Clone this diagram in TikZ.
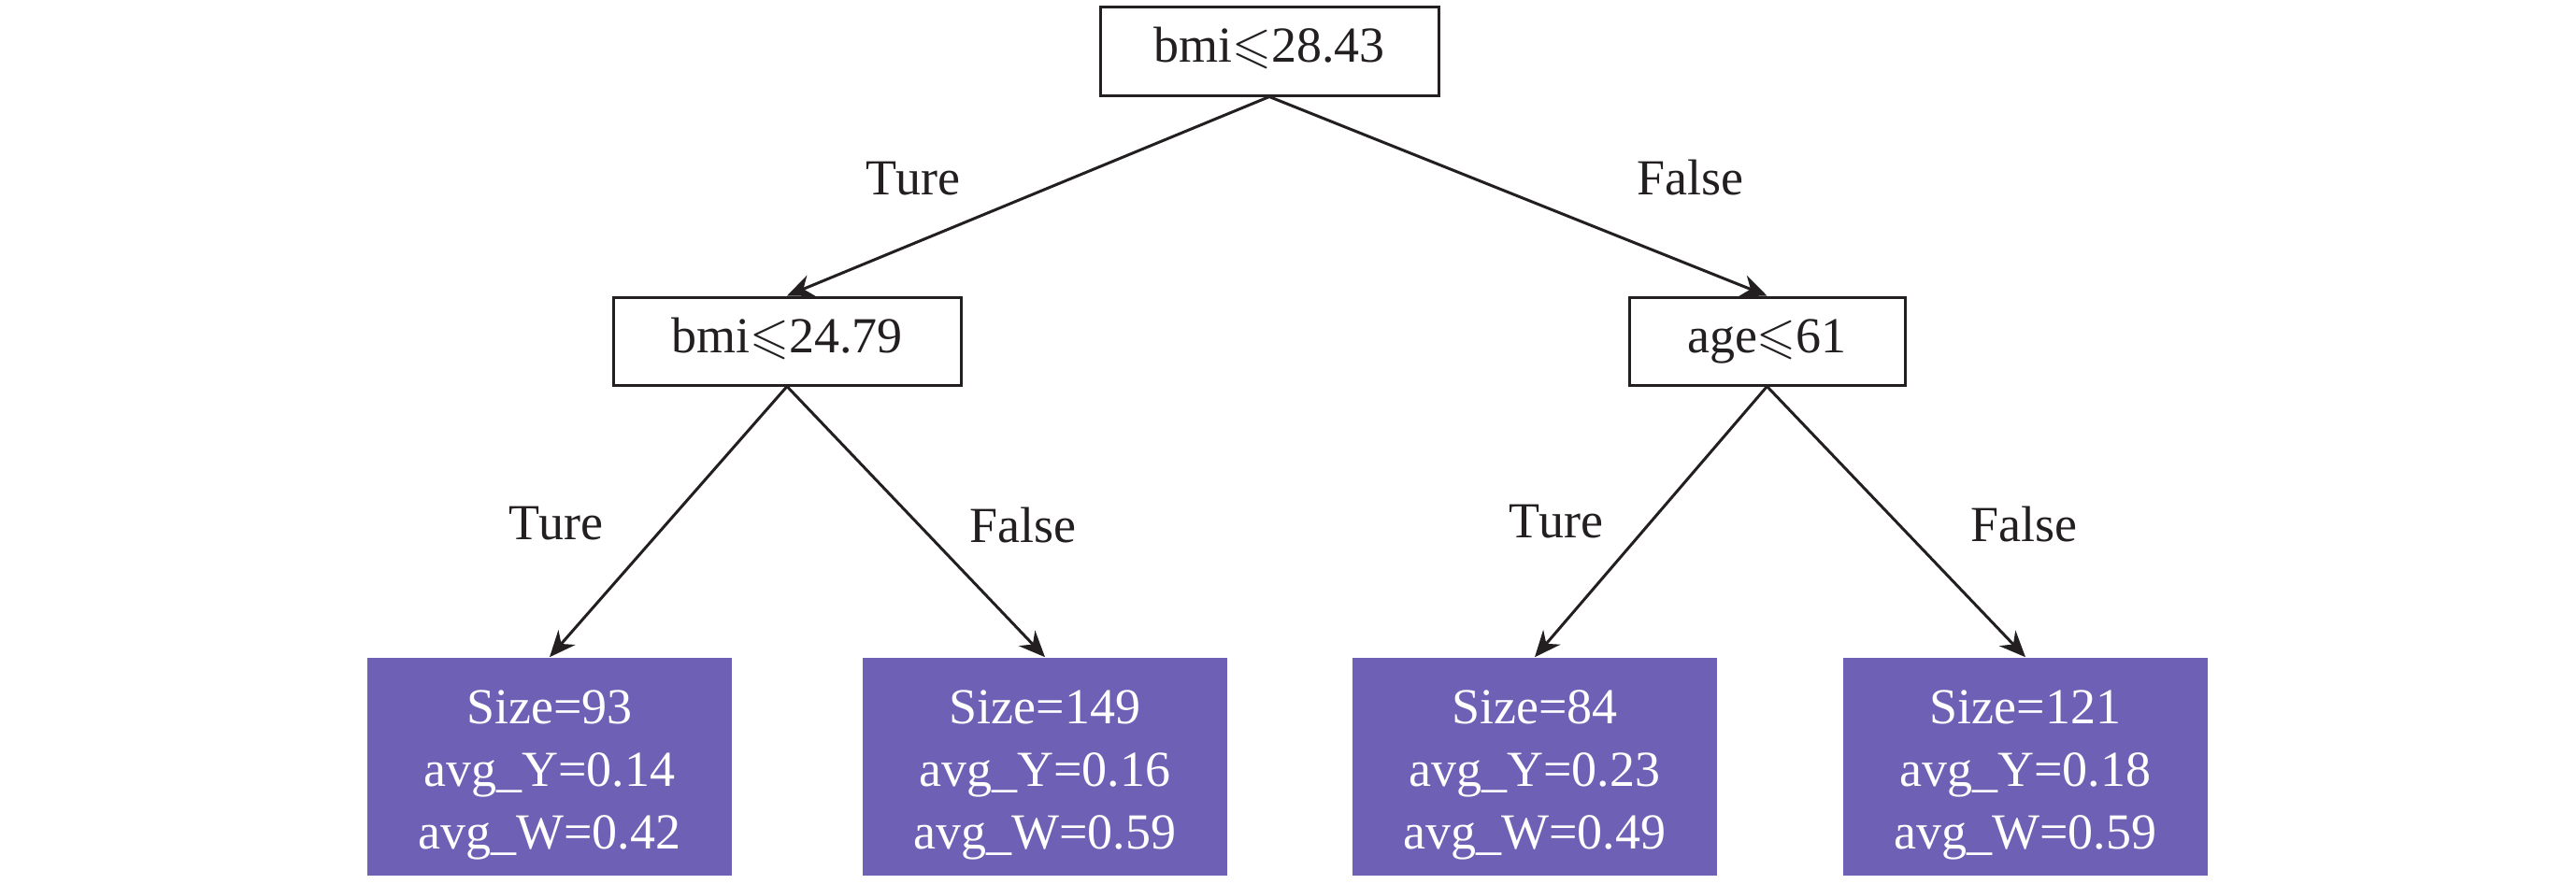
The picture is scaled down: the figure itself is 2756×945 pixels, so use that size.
\documentclass[tikz,border=0pt]{standalone}
\usepackage{fontspec}
\usepackage{amssymb}
\setmainfont{Liberation Serif}
\usetikzlibrary{arrows.meta}
\definecolor{ink}{HTML}{231F20}
\definecolor{leafc}{HTML}{6E60B4}
\newcommand{\lfstrut}{\rule{0pt}{13.6pt}}
\begin{document}
\begin{tikzpicture}[x=0.25pt,y=-0.25pt,
  every node/.style={font=\fontsize{13.5pt}{16.75pt}\selectfont, text=ink},
  split/.style={draw=ink, line width=0.75pt, inner sep=0pt, text height=9.45pt, text depth=3.4pt, minimum height=23.5pt},
  leafbox/.style={fill=leafc, text=white, inner sep=0pt, minimum width=97.5pt, minimum height=58.25pt, align=center},
  arr/.style={draw=ink, line width=0.75pt, -{Stealth[length=7pt,width=6pt]}},
  lab/.style={inner sep=0pt}]
\useasboundingbox (0,0) rectangle (2756,945);

\node[split, minimum width=90.5pt, minimum height=23.75pt] (root) at (1358,54.5) {bmi$\leqslant$28.43};
\node[split, minimum width=93pt] (n1) at (842,365) {bmi$\leqslant$24.79};
\node[split, minimum width=73.75pt] (n2) at (1890.5,365) {age$\leqslant$61};

\node[leafbox] (l1) at (588,820.5) {\lfstrut Size=93\\avg\_Y=0.14\\avg\_W=0.42};
\node[leafbox] (l2) at (1118,820.5) {\lfstrut Size=149\\avg\_Y=0.16\\avg\_W=0.59};
\node[leafbox] (l3) at (1642,820.5) {\lfstrut Size=84\\avg\_Y=0.23\\avg\_W=0.49};
\node[leafbox] (l4) at (2167,820.5) {\lfstrut Size=121\\avg\_Y=0.18\\avg\_W=0.59};

\draw[arr] (root.south) -- (n1.north);
\draw[arr] (root.south) -- (n2.north);
\draw[arr] (n1.south) -- (l1.north);
\draw[arr] (n1.south) -- (l2.north);
\draw[arr] (n2.south) -- (l3.north);
\draw[arr] (n2.south) -- (l4.north);

\node[lab] (t0) at (977,191) {Ture};
\node[lab] (f0) at (1808,190) {False};
\node[lab] (t1) at (595,560) {Ture};
\node[lab] (f1) at (1094,562) {False};
\node[lab] (t2) at (1665,558) {Ture};
\node[lab] (f2) at (2165,561) {False};
\end{tikzpicture}
\end{document}
